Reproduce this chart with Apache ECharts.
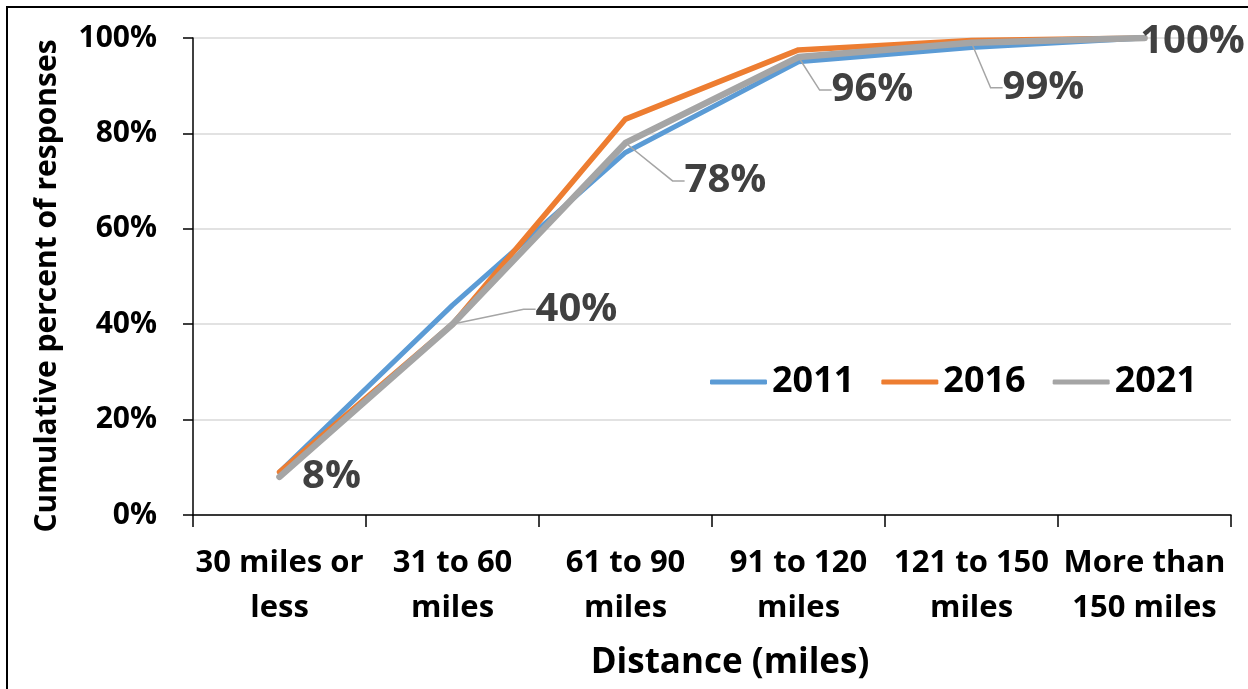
<!DOCTYPE html>
<html>
<head>
<meta charset="utf-8">
<script src="https://cdn.jsdelivr.net/npm/echarts@6/dist/echarts.min.js"></script>
<style>
  html, body { margin: 0; padding: 0; background: #ffffff; }
  #chart { width: 1248px; height: 689px; }
</style>
</head>
<body>
<div id="chart"></div>
<script>
// Distance categories (x axis) and cumulative share of responses (%) per survey year
const categories = ['30 miles or\nless', '31 to 60\nmiles', '61 to 90\nmiles', '91 to 120\nmiles', '121 to 150\nmiles', 'More than\n150 miles'];
const values2011 = [9, 44, 76, 95, 98, 100];
const values2016 = [9, 40, 83, 97.5, 99.5, 100];
const values2021 = [8, 40, 78, 96, 99, 100];
const seriesNames = ['2011', '2016', '2021'];

// Where each 2021 value label sits relative to its point (px), and whether it gets a leader line
const labelShift = [[52, 0], [124, -15], [100, 38], [74, 33], [72, 45], [48, 4]];
const showLeader = [false, true, true, true, true, false];

const FONT = '"Open Sans", "Noto Sans", sans-serif';
const COLORS = { '2011': '#5B9BD5', '2016': '#ED7D31', '2021': '#A5A5A5' };

const chart = echarts.init(document.getElementById('chart'), null, { renderer: 'canvas' });

function lineSeries(name, values, width, z) {
  return {
    name: name,
    type: 'line',
    data: values,
    symbol: 'none',
    lineStyle: { color: COLORS[name], width: width, cap: 'round', join: 'round' },
    itemStyle: { color: COLORS[name] },
    z: z
  };
}

const s2021 = lineSeries('2021', values2021.map((v, i) => ({ value: v, labelLine: { show: showLeader[i] } })), 6.5, 4);
Object.assign(s2021, {
  symbol: 'circle',
  symbolSize: 1,
  showSymbol: true,
  label: {
    show: true,
    position: 'inside',
    formatter: '{c}%',
    fontFamily: FONT,
    fontWeight: 'bold',
    fontSize: 40,
    color: '#404040',
    align: 'center',
    verticalAlign: 'middle',
    padding: [0, 8, 0, 8]
  },
  labelLine: { show: true, length2: 12, lineStyle: { color: '#A5A5A5', width: 1.5 } },
  labelLayout: function (p) {
    const d = labelShift[p.dataIndex];
    return { x: p.rect.x + p.rect.width / 2 + d[0], y: p.rect.y + p.rect.height / 2 + d[1] };
  }
});

const option = {
  animation: false,
  backgroundColor: '#ffffff',
  grid: { left: 193, right: 17, top: 38, bottom: 174, containLabel: false },
  legend: {
    data: seriesNames,
    left: 710,
    top: 364,
    padding: 0,
    icon: 'roundRect',
    itemWidth: 57,
    itemHeight: 5,
    itemGap: 27,
    textStyle: { fontFamily: FONT, fontWeight: 'bold', fontSize: 36, lineHeight: 36, color: '#000000' }
  },
  xAxis: {
    type: 'category',
    data: categories,
    boundaryGap: true,
    axisLine: { show: true, lineStyle: { color: '#000000', width: 1.5 } },
    axisTick: { show: true, length: 12, alignWithLabel: false, lineStyle: { color: '#000000', width: 1.5 } },
    axisLabel: {
      interval: 0,
      margin: 26,
      fontFamily: FONT,
      fontWeight: 'bold',
      fontSize: 31,
      lineHeight: 45,
      color: '#000000',
      verticalAlign: 'top'
    },
    splitLine: { show: false }
  },
  yAxis: {
    type: 'value',
    min: 0,
    max: 100,
    interval: 20,
    axisLine: { show: true, lineStyle: { color: '#000000', width: 1.5 } },
    axisTick: { show: true, length: 10, lineStyle: { color: '#000000', width: 1.5 } },
    axisLabel: {
      formatter: '{value}%',
      margin: 36,
      fontFamily: FONT,
      fontWeight: 'bold',
      fontSize: 30,
      color: '#000000'
    },
    splitLine: { show: true, lineStyle: { color: '#D9D9D9', width: 1.5 } }
  },
  series: [
    lineSeries('2011', values2011, 5, 2),
    lineSeries('2016', values2016, 5.5, 3),
    s2021
  ],
  graphic: [
    {
      type: 'rect',
      shape: { x: 7, y: 7, width: 1400, height: 900 },
      style: { fill: 'none', stroke: '#000000', lineWidth: 2 },
      silent: true,
      z: 100
    },
    {
      type: 'text',
      x: 730,
      y: 663,
      style: {
        text: 'Distance (miles)',
        font: 'bold 35px ' + FONT,
        fill: '#000000',
        align: 'center',
        verticalAlign: 'middle'
      }
    },
    {
      type: 'text',
      x: 47,
      y: 286,
      rotation: Math.PI / 2,
      style: {
        text: 'Cumulative percent of responses',
        font: 'bold 30px ' + FONT,
        fill: '#000000',
        align: 'center',
        verticalAlign: 'middle'
      }
    }
  ]
};

chart.setOption(option);
</script>
</body>
</html>
